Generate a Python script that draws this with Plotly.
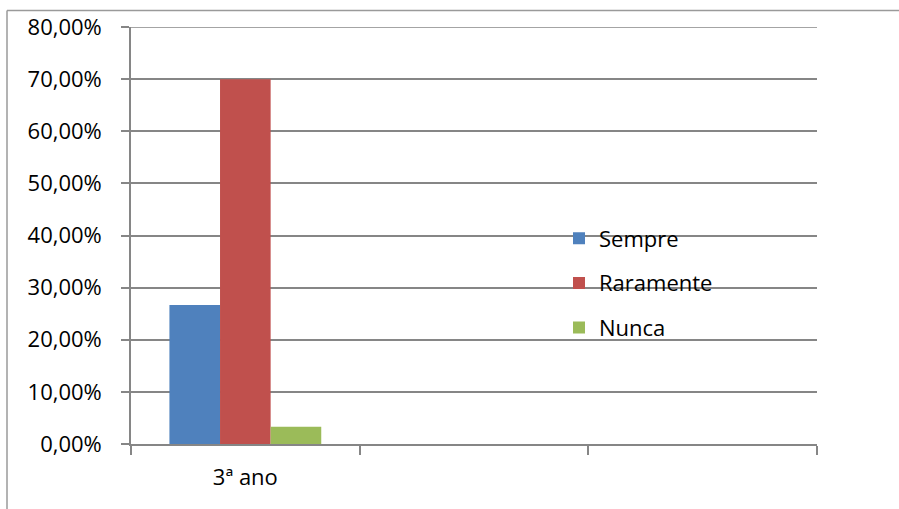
import plotly.graph_objects as go

categories = ["3ª ano"]
empty_slots = [" ", "  "]
series_names = ["Sempre", "Raramente", "Nunca"]
series_values = [[0.2667], [0.70], [0.0333]]
series_colors = ["#4F81BD", "#C0504D", "#9BBB59"]
y_ticks = [0, 0.1, 0.2, 0.3, 0.4, 0.5, 0.6, 0.7, 0.8]

FONT = "Open Sans"
GRID = "#868686"
LW = 1.7

fig = go.Figure()
for i, (name, vals, col) in enumerate(zip(series_names, series_values, series_colors)):
    fig.add_trace(go.Bar(
        x=categories, y=vals, name=name, marker=dict(color=col, line=dict(width=0)),
        legendgroup=name,
    ))

W, H = 899, 509
L, R, T, B = 131, 82, 27, 65
pw, ph = W - L - R, H - T - B

def px_x(x):
    return (x - L) / pw

def px_y(y):
    return (H - B - y) / ph

fig.update_layout(
    width=W, height=H,
    margin=dict(l=L, r=R, t=T, b=B),
    paper_bgcolor="white", plot_bgcolor="white",
    separators=",.",
    barmode="group", bargap=0.336, bargroupgap=0,
    font=dict(family=FONT, size=22, color="#000000"),
    showlegend=True,
    legend=dict(
        x=px_x(559), y=px_y(283), xanchor="left", yanchor="middle",
        traceorder="grouped", tracegroupgap=13,
        font=dict(family=FONT, size=22, color="#000000"),
        bgcolor="rgba(0,0,0,0)", itemclick=False,
    ),
    xaxis=dict(
        type="category", categoryorder="array",
        categoryarray=categories + empty_slots,
        range=[-0.5, 2.5], tickson="boundaries",
        ticks="outside", ticklen=9, tickcolor=GRID, tickwidth=LW,
        showgrid=False, showline=True, linecolor=GRID, linewidth=LW,
        ticklabelstandoff=13, fixedrange=True,
    ),
    yaxis=dict(
        range=[0, 0.8], tickvals=y_ticks, tickformat=".2%",
        ticks="outside", ticklen=8, tickcolor=GRID, tickwidth=LW,
        showgrid=True, gridcolor=GRID, gridwidth=LW,
        showline=True, linecolor=GRID, linewidth=LW,
        zeroline=False, ticklabelstandoff=15, fixedrange=True,
    ),
    shapes=[
        dict(type="line", xref="paper", yref="y",
             x0=0, x1=1, y0=y_ticks[-1], y1=y_ticks[-1],
             line=dict(color=GRID, width=LW), layer="below"),
        dict(type="line", xref="paper", yref="paper",
             x0=px_x(7), x1=px_x(905), y0=px_y(10.5), y1=px_y(10.5),
             line=dict(color="#9a9a9a", width=1.5)),
        dict(type="line", xref="paper", yref="paper",
             x0=px_x(7), x1=px_x(7), y0=px_y(10.5), y1=px_y(515),
             line=dict(color="#9a9a9a", width=1.5)),
    ],
)

fig.write_html("out.html", config={"displayModeBar": False})
